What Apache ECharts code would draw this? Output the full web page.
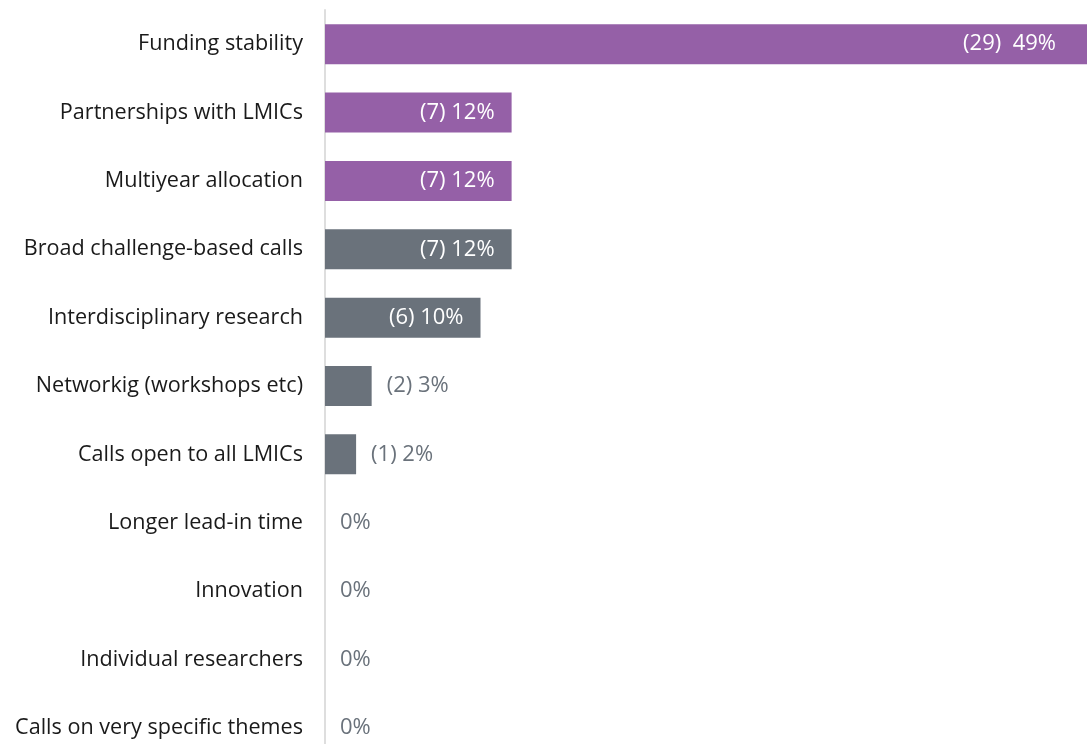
<!DOCTYPE html>
<html>
<head>
<meta charset="utf-8">
<script src="https://cdn.jsdelivr.net/npm/echarts@6/dist/echarts.min.js"></script>
<style>
  html, body { margin: 0; padding: 0; background: #fff; overflow: hidden; }
  #chart { width: 1087px; height: 762px; }
</style>
</head>
<body>
<div id="chart"></div>
<script>
// Categories, top to bottom
const categories = [
  'Funding stability',
  'Partnerships with LMICs',
  'Multiyear allocation',
  'Broad challenge-based calls',
  'Interdisciplinary research',
  'Networkig (workshops etc)',
  'Calls open to all LMICs',
  'Longer lead-in time',
  'Innovation',
  'Individual researchers',
  'Calls on very specific themes'
];
// Number of responses per category
const counts = [29, 7, 7, 7, 6, 2, 1, 0, 0, 0, 0];
// Share of responses (%)
const percents = [49, 12, 12, 12, 10, 3, 2, 0, 0, 0, 0];
// Highlighted (purple) categories
const highlighted = [true, true, true, false, false, false, false, false, false, false, false];

const PURPLE = '#9560A7';
const GREY = '#6A727B';
const FONT = '"Open Sans", "Liberation Sans", Arial, sans-serif';

const data = percents.map((v, i) => {
  const inside = v >= 10;
  const text = counts[i] > 0
    ? (counts[i] >= 10 ? '(' + counts[i] + ')  ' + v + '%' : '(' + counts[i] + ') ' + v + '%')
    : v + '%';
  return {
    value: v,
    itemStyle: { color: highlighted[i] ? PURPLE : GREY },
    label: {
      show: true,
      position: inside ? 'insideRight' : 'right',
      distance: inside ? (i === 0 ? 31 : 17) : 15,
      color: inside ? '#ffffff' : GREY,
      formatter: () => text
    }
  };
});

const chart = echarts.init(document.getElementById('chart'), null, { renderer: 'canvas' });
chart.setOption({
  animation: false,
  grid: { left: 325, right: 0, top: 10, bottom: 0 },
  xAxis: {
    type: 'value', min: 0, max: 49,
    show: false
  },
  yAxis: {
    type: 'category',
    data: categories,
    inverse: true,
    axisLine: { show: true, lineStyle: { color: '#DEDEDE', width: 2 } },
    axisTick: { show: false },
    axisLabel: { color: '#1a1a1a', fontSize: 21.6, fontFamily: FONT, margin: 22 }
  },
  series: [{
    type: 'bar',
    data: data,
    barWidth: 40,
    label: { fontSize: 22, fontFamily: FONT }
  }]
});
</script>
</body>
</html>
